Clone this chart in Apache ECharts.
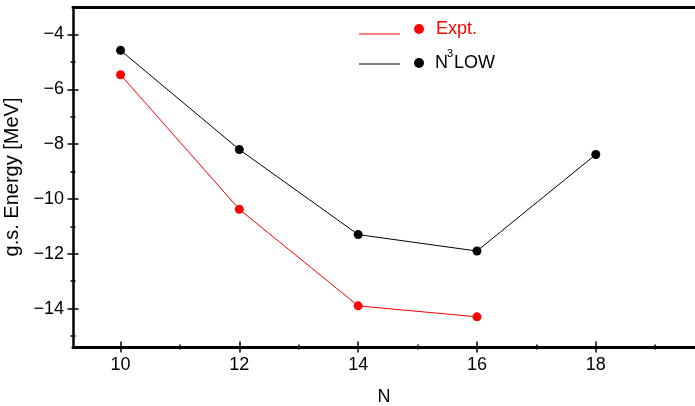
<!DOCTYPE html>
<html>
<head>
<meta charset="utf-8">
<script src="https://cdn.jsdelivr.net/npm/echarts@6/dist/echarts.min.js"></script>
<style>html,body{margin:0;padding:0;background:#fff}#c{width:695px;height:406px}</style>
</head>
<body>
<div id="c"></div>
<script>
var nValues = [10, 12, 14, 16, 18];
var exptN = [10, 12, 14, 16];
var exptEnergy = [-5.47, -10.38, -13.9, -14.3];
var n3lowN = [10, 12, 14, 16, 18];
var n3lowEnergy = [-4.58, -8.2, -11.3, -11.9, -8.38];
var xMajorTicks = [10, 12, 14, 16, 18];
var xMinorTicks = [11, 13, 15, 17, 19];
var yMajorTicks = [-14, -12, -10, -8, -6, -4];
var yMinorTicks = [-15, -13, -11, -9, -7, -5];

var FONT = 'Liberation Sans, Arial, sans-serif';
function pairs(xs, ys) { return xs.map(function (x, i) { return [x, ys[i]]; }); }

var XMIN = 9.2, XMAX = 19.67, YMIN = -15.4, YMAX = -3;

function tickAxisX(vals, len, offset) {
  return {
    type: 'value', min: XMIN, max: XMAX, position: 'bottom', offset: offset,
    axisLine: { show: false }, splitLine: { show: false },
    axisLabel: { show: false },
    axisTick: { show: true, customValues: vals, length: len, lineStyle: { color: '#000', width: 1.5 } }
  };
}
function tickAxisY(vals, len, offset) {
  return {
    type: 'value', min: YMIN, max: YMAX, position: 'left', offset: offset,
    axisLine: { show: false }, splitLine: { show: false },
    axisLabel: { show: false },
    axisTick: { show: true, customValues: vals, length: len, lineStyle: { color: '#000', width: 1.5 } }
  };
}

var chart = echarts.init(document.getElementById('c'));
chart.setOption({
  animation: false,
  backgroundColor: '#fff',
  grid: { left: 73, right: 0, top: 7, bottom: 59, outerBoundsMode: 'none', containLabel: false },
  xAxis: [
    {
      type: 'value', min: XMIN, max: XMAX, position: 'bottom',
      name: 'N', nameLocation: 'middle', nameGap: 41,
      nameTextStyle: { color: '#000', fontSize: 18, fontFamily: FONT },
      axisLine: { show: true, onZero: false, lineStyle: { color: '#000', width: 3 } },
      axisTick: { show: false },
      splitLine: { show: false },
      axisLabel: { customValues: xMajorTicks, color: '#000', fontSize: 18, fontFamily: FONT, margin: 9 }
    },
    tickAxisX(xMajorTicks, 11, -5.5),
    tickAxisX(xMinorTicks, 5, -2.5),
    {
      type: 'value', min: XMIN, max: XMAX, position: 'top',
      axisLine: { show: true, onZero: false, lineStyle: { color: '#000', width: 3 } },
      axisTick: { show: false }, axisLabel: { show: false }, splitLine: { show: false }
    }
  ],
  yAxis: [
    {
      type: 'value', min: YMIN, max: YMAX, position: 'left',
      name: 'g.s. Energy [MeV]', nameLocation: 'middle', nameGap: 44,
      nameTextStyle: { color: '#000', fontSize: 20, fontFamily: FONT },
      axisLine: { show: true, onZero: false, lineStyle: { color: '#000', width: 2.5 } },
      axisTick: { show: false },
      splitLine: { show: false },
      axisLabel: {
        customValues: yMajorTicks, color: '#000', fontSize: 18, fontFamily: FONT, margin: 9,
        formatter: function (v) { return String(v).replace('-', '\u2212'); }
      }
    },
    tickAxisY(yMajorTicks, 11, -5.5),
    tickAxisY(yMinorTicks, 5, -2.5)
  ],
  series: [
    {
      type: 'line', name: 'N3LOW', data: pairs(n3lowN, n3lowEnergy),
      symbol: 'circle', symbolSize: 9,
      lineStyle: { color: '#000', width: 1 }, itemStyle: { color: '#000' }
    },
    {
      type: 'line', name: 'Expt.', data: pairs(exptN, exptEnergy),
      symbol: 'circle', symbolSize: 9,
      lineStyle: { color: '#ff0000', width: 1 }, itemStyle: { color: '#ff0000' }
    }
  ],
  graphic: [
    { type: 'line', shape: { x1: 359, y1: 34, x2: 400, y2: 34 }, style: { stroke: '#ff0000', lineWidth: 1 } },
    { type: 'circle', shape: { cx: 419, cy: 29, r: 5 }, style: { fill: '#ff0000' } },
    { type: 'text', x: 436, y: 29, style: { text: 'Expt.', fill: '#ff0000', fontSize: 18, fontFamily: FONT, verticalAlign: 'middle' } },
    { type: 'line', shape: { x1: 359, y1: 64, x2: 400, y2: 64 }, style: { stroke: '#000', lineWidth: 1 } },
    { type: 'circle', shape: { cx: 419, cy: 63, r: 5 }, style: { fill: '#000' } },
    { type: 'text', x: 435, y: 63, style: { text: 'N', fill: '#000', fontSize: 18, fontFamily: FONT, verticalAlign: 'middle' } },
    { type: 'text', x: 447, y: 54, style: { text: '3', fill: '#000', fontSize: 11, fontFamily: FONT, verticalAlign: 'middle' } },
    { type: 'text', x: 454, y: 63, style: { text: 'LOW', fill: '#000', fontSize: 18, fontFamily: FONT, verticalAlign: 'middle' } }
  ]
});
</script>
</body>
</html>
